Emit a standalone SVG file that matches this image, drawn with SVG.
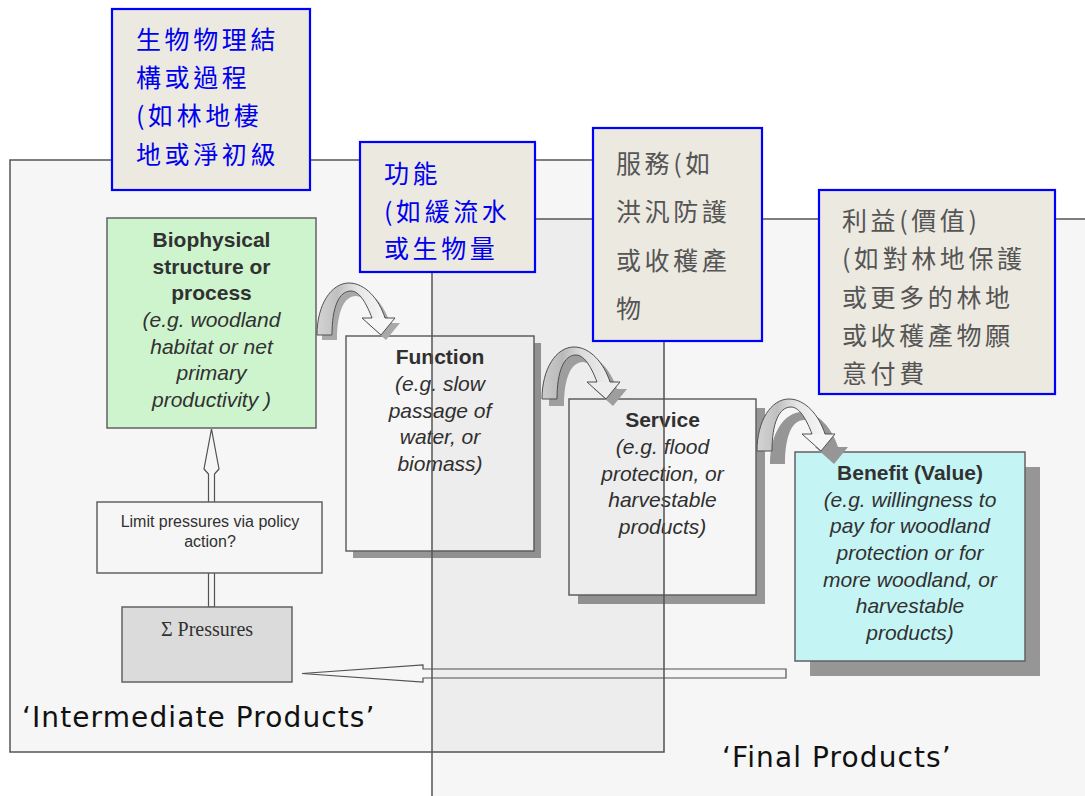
<svg xmlns="http://www.w3.org/2000/svg" width="1085" height="796" viewBox="0 0 1085 796">
<defs>
<style>
.box{stroke:#666;stroke-width:1.5}
.shadow{fill:#9c9c9c}
.t{font-family:"Liberation Sans",Arial,sans-serif;font-size:21px;fill:#333;text-anchor:middle}
.b{font-weight:bold}
.i{font-style:italic}
.area{fill:#000;fill-opacity:0.035;stroke:#555;stroke-width:1.5}
.callout{fill:#ece9e0;stroke:#0000ff;stroke-width:2.2}
.cjk{font-family:"Noto Sans CJK TC","Noto Sans CJK SC",sans-serif;font-size:25px;letter-spacing:3.6px}
.blue{fill:#0000ee}
.gray{fill:#555}
.hollow{fill:#fff;stroke:#555;stroke-width:1.2}
.lbl{font-family:"DejaVu Sans",Verdana,sans-serif;font-size:28px;fill:#111;letter-spacing:1.1px}
</style>
<linearGradient id="bandGrad" x1="0" y1="0" x2="1" y2="0">
<stop offset="0" stop-color="#dcdcdc"/>
<stop offset="0.3" stop-color="#c8c8c8"/>
<stop offset="0.6" stop-color="#efefef"/>
<stop offset="1" stop-color="#ffffff"/>
</linearGradient>
<path id="carc" d="M0,0 C0,-30 14,-52 32,-52 C48,-52 62,-36 68,-17 L78,-17 L64,0 L45,-17 L55,-17 C50,-30 43,-44 34,-44 C22,-44 15,-28 15,0 Z"/>
<path id="cband" d="M0,0 C0,-30 14,-52 32,-52 C48,-52 62,-36 68,-17 L55,-17 C50,-30 43,-44 34,-44 C22,-44 15,-28 15,0 Z"/>
<path id="chead" d="M45,-17 L78,-17 L64,0 Z"/>
</defs>
<rect width="1085" height="796" fill="#fff"/>

<g id="node-biophysical">
<rect class="box" x="107" y="218" width="209" height="210" fill="#d6fdd6"/>
<text class="t b" x="211.5" y="247">Biophysical</text>
<text class="t b" x="211.5" y="274">structure or</text>
<text class="t b" x="211.5" y="300">process</text>
<text class="t i" x="211.5" y="327">(e.g. woodland</text>
<text class="t i" x="211.5" y="354">habitat or net</text>
<text class="t i" x="211.5" y="380">primary</text>
<text class="t i" x="211.5" y="407">productivity )</text>
</g>

<g id="node-function">
<rect class="shadow" x="353" y="343" width="188" height="215"/>
<rect class="box" x="346" y="336" width="188" height="215" fill="#fff"/>
<text class="t b" x="440" y="364">Function</text>
<text class="t i" x="440" y="391">(e.g. slow</text>
<text class="t i" x="440" y="418">passage of</text>
<text class="t i" x="440" y="444">water, or</text>
<text class="t i" x="440" y="471">biomass)</text>
</g>

<g id="node-service">
<rect class="shadow" x="578" y="408" width="187" height="196"/>
<rect class="box" x="569" y="399" width="187" height="196" fill="#fff"/>
<text class="t b" x="662.5" y="427">Service</text>
<text class="t i" x="662.5" y="454">(e.g. flood</text>
<text class="t i" x="662.5" y="481">protection, or</text>
<text class="t i" x="662.5" y="507">harvestable</text>
<text class="t i" x="662.5" y="534">products)</text>
</g>

<g id="node-benefit">
<rect class="shadow" x="810" y="467" width="230" height="209"/>
<rect class="box" x="795" y="452" width="230" height="209" fill="#cdfdfd" stroke="#444"/>
<text class="t b" x="910" y="480" fill="#222">Benefit (Value)</text>
<text class="t i" x="910" y="507">(e.g. willingness to</text>
<text class="t i" x="910" y="533">pay for woodland</text>
<text class="t i" x="910" y="560">protection or for</text>
<text class="t i" x="910" y="587">more woodland, or</text>
<text class="t i" x="910" y="613">harvestable</text>
<text class="t i" x="910" y="640">products)</text>
</g>

<g id="connectors">
<g transform="translate(317,335)">
<use href="#carc" transform="translate(5,5)" fill="#b0b0b0"/>
<use href="#cband" fill="url(#bandGrad)"/>
<use href="#chead" fill="#fff"/>
<use href="#carc" fill="none" stroke="#555" stroke-width="1"/>
</g>
<g transform="translate(542,399)">
<use href="#carc" transform="translate(7,7)" fill="#aaa"/>
<use href="#cband" fill="url(#bandGrad)"/>
<use href="#chead" fill="#fff"/>
<use href="#carc" fill="none" stroke="#555" stroke-width="1"/>
</g>
<g transform="translate(757,451)">
<use href="#carc" transform="translate(13,13)" fill="#9c9c9c"/>
<use href="#cband" fill="url(#bandGrad)"/>
<use href="#chead" fill="#fff"/>
<use href="#carc" fill="none" stroke="#555" stroke-width="1"/>
</g>
<polygon class="hollow" points="211.5,429 219,469 214.5,474 214.5,607 208.5,607 208.5,474 204,469"/>
<polygon class="hollow" points="302,673.5 423,665 423,669 786,669 786,678 423,678 423,682"/>
</g>

<g id="node-limit">
<rect class="box" x="97" y="502" width="225" height="71" fill="#fff"/>
<text class="t" x="210" y="527" style="font-size:16px">Limit pressures via policy</text>
<text class="t" x="210" y="547" style="font-size:16px">action?</text>
</g>

<g id="node-pressures">
<rect class="box" x="122" y="607" width="170" height="75" fill="#e4e4e4"/>
<text x="207" y="636" style="font-family:'Liberation Serif','Times New Roman',serif;font-size:20px;fill:#333;text-anchor:middle">Σ Pressures</text>
</g>

<g id="area-intermediate">
<rect class="area" x="10" y="160" width="654" height="592"/>
</g>
<g id="area-final">
<rect class="area" x="432" y="219" width="700" height="620"/>
</g>

<g id="label-intermediate">
<text class="lbl" x="22" y="727">‘Intermediate Products’</text>
</g>
<g id="label-final">
<text class="lbl" x="722" y="767">‘Final Products’</text>
</g>

<g id="callout-structure">
<rect class="callout" x="112" y="9" width="198" height="181"/>
<text class="cjk blue" x="136" y="48.5">生物物理結</text>
<text class="cjk blue" x="136" y="86.5">構或過程</text>
<text class="cjk blue" x="136" y="125">(如林地棲</text>
<text class="cjk blue" x="136" y="163.5">地或淨初級</text>
</g>

<g id="callout-function">
<rect class="callout" x="360" y="142" width="175" height="130"/>
<text class="cjk blue" x="384" y="182.5">功能</text>
<text class="cjk blue" x="384" y="220.5">(如緩流水</text>
<text class="cjk blue" x="384" y="258">或生物量</text>
</g>

<g id="callout-service">
<rect class="callout" x="593" y="128" width="169" height="213"/>
<text class="cjk gray" x="616" y="172.5">服務(如</text>
<text class="cjk gray" x="616" y="221">洪汎防護</text>
<text class="cjk gray" x="616" y="269.5">或收穫產</text>
<text class="cjk gray" x="616" y="317.5">物</text>
</g>

<g id="callout-benefit">
<rect class="callout" x="819" y="190" width="236" height="204"/>
<text class="cjk gray" x="842" y="229.5">利益(價值)</text>
<text class="cjk gray" x="842" y="267.5">(如對林地保護</text>
<text class="cjk gray" x="842" y="306.5">或更多的林地</text>
<text class="cjk gray" x="842" y="344.5">或收穫產物願</text>
<text class="cjk gray" x="842" y="382.5">意付費</text>
</g>
</svg>
